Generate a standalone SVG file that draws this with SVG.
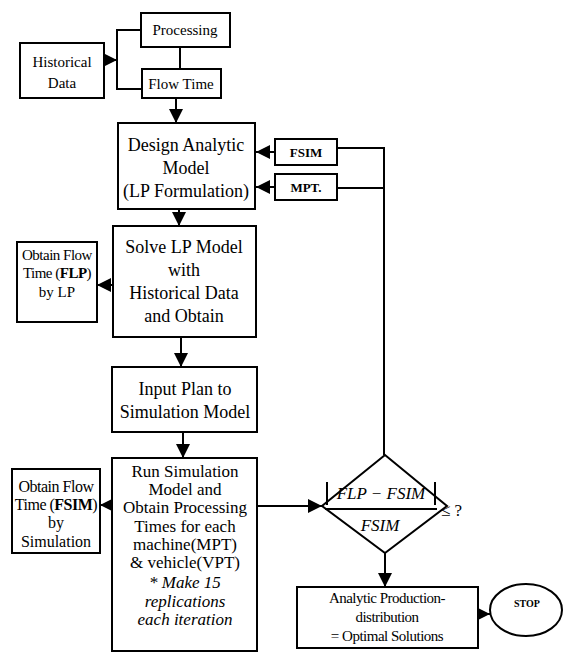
<svg xmlns="http://www.w3.org/2000/svg" width="563" height="652" viewBox="0 0 563 652">
<style>
.b{fill:#fff;stroke:#000;stroke-width:2}
.t{font-family:"Liberation Serif",serif;fill:#000;text-anchor:middle}
.c{fill:none;stroke:#000;stroke-width:2}
.i{font-style:italic}
.bd{font-weight:bold}
</style>
<defs>
<marker id="ah" markerWidth="14" markerHeight="14" refX="14" refY="7" orient="auto" markerUnits="userSpaceOnUse"><path d="M0,0 L14,7 L0,14 z" fill="#000"/></marker>
</defs>
<rect width="563" height="652" fill="#fff"/>
<g id="connectors">
<path class="c" d="M140,30 H117 V89 H142"/>
<path class="c" d="M180,47 V69"/>
<path class="c" d="M104,60 H117" marker-end="url(#ah)"/>
<path class="c" d="M176,98 V123" marker-end="url(#ah)"/>
<path class="c" d="M275,152 H256" marker-end="url(#ah)"/>
<path class="c" d="M275,187 H256" marker-end="url(#ah)"/>
<path class="c" d="M384,455 V148 H337"/>
<path class="c" d="M384,188 H337"/>
<path class="c" d="M179,209 V226" marker-end="url(#ah)"/>
<path class="c" d="M113,285 H97" marker-end="url(#ah)"/>
<path class="c" d="M181,337 V367" marker-end="url(#ah)"/>
<path class="c" d="M183,432 V458" marker-end="url(#ah)"/>
<path class="c" d="M112,505 H100" marker-end="url(#ah)"/>
<path class="c" d="M257,506 H322" marker-end="url(#ah)"/>
<path class="c" d="M385,553 V587" marker-end="url(#ah)"/>
<path class="c" d="M478,614 H490" marker-end="url(#ah)"/>
</g>
<g id="processing"><rect class="b" x="141" y="13" width="89" height="34"/><text class="t" x="185" y="35" font-size="15">Processing</text></g>
<g id="flowtime"><rect class="b" x="142" y="69" width="79" height="29"/><text class="t" x="181" y="89" font-size="15">Flow Time</text></g>
<g id="historical"><rect class="b" x="20" y="43" width="84" height="55"/><text class="t" x="62" y="67" font-size="15">Historical</text><text class="t" x="62" y="88" font-size="15">Data</text></g>
<g id="design"><rect class="b" x="118" y="123" width="137" height="86"/><text class="t" x="186" y="151" font-size="18">Design Analytic</text><text class="t" x="186" y="174" font-size="18">Model</text><text class="t" x="186" y="197" font-size="18">(LP Formulation)</text></g>
<g id="fsim"><rect class="b" x="275" y="139" width="62" height="26"/><text class="t bd" x="306" y="157" font-size="13">FSIM</text></g>
<g id="mpt"><rect class="b" x="275" y="174" width="62" height="26"/><text class="t bd" x="306" y="192" font-size="13">MPT.</text></g>
<g id="solve"><rect class="b" x="113" y="226" width="143" height="111"/><text class="t" x="184" y="253" font-size="18">Solve LP Model</text><text class="t" x="184" y="276" font-size="18">with</text><text class="t" x="184" y="299" font-size="18">Historical Data</text><text class="t" x="184" y="322" font-size="18">and Obtain</text></g>
<g id="flp"><rect class="b" x="17" y="242" width="80" height="80"/><text class="t" x="57" y="260" font-size="15" letter-spacing="-0.5">Obtain Flow</text><text class="t" x="57" y="278" font-size="15" letter-spacing="-0.5">Time (<tspan class="bd">FLP</tspan>)</text><text class="t" x="57" y="297" font-size="15">by LP</text></g>
<g id="input"><rect class="b" x="112" y="367" width="145" height="65"/><text class="t" x="185" y="395" font-size="18">Input Plan to</text><text class="t" x="185" y="418" font-size="18">Simulation Model</text></g>
<g id="run"><rect class="b" x="112" y="458" width="145" height="193"/>
<text class="t" x="185" y="477" font-size="17">Run Simulation</text>
<text class="t" x="185" y="495" font-size="17">Model and</text>
<text class="t" x="185" y="513" font-size="17">Obtain Processing</text>
<text class="t" x="185" y="532" font-size="17">Times for each</text>
<text class="t" x="185" y="550" font-size="17">machine(MPT)</text>
<text class="t" x="185" y="568" font-size="17">&amp; vehicle(VPT)</text>
<text class="t i" x="185" y="588" font-size="17">* Make 15</text>
<text class="t i" x="185" y="607" font-size="17">replications</text>
<text class="t i" x="185" y="625" font-size="17">each iteration</text></g>
<g id="fsimbox"><rect class="b" x="12" y="469" width="88" height="84"/><text class="t" x="56" y="492" font-size="16" letter-spacing="-0.5">Obtain Flow</text><text class="t" x="56" y="510" font-size="16" letter-spacing="-0.5">Time (<tspan class="bd">FSIM</tspan>)</text><text class="t" x="56" y="528" font-size="16">by</text><text class="t" x="56" y="547" font-size="16">Simulation</text></g>
<g id="decision"><path class="b" d="M385,455 L447,506 L385,553 L322,506 Z"/>
<path class="c" d="M327,482 V505 M435,482 V505 M325,509 H437"/>
<text class="t i" x="381" y="499" font-size="17">FLP − FSIM</text>
<text class="t i" x="380" y="531" font-size="17">FSIM</text>
<text x="441" y="516" font-size="17" font-family="Liberation Serif,serif">≤ ?</text></g>
<g id="analytic"><rect class="b" x="297" y="587" width="181" height="61"/><text class="t" x="387" y="603" font-size="15" letter-spacing="-0.5">Analytic Production-</text><text class="t" x="387" y="622" font-size="15" letter-spacing="-0.5">distribution</text><text class="t" x="387" y="641" font-size="15" letter-spacing="-0.5">= Optimal Solutions</text></g>
<g id="stop"><ellipse class="b" cx="526" cy="610" rx="36" ry="26"/><text class="t bd" x="527" y="607" font-size="10">STOP</text></g>
</svg>
